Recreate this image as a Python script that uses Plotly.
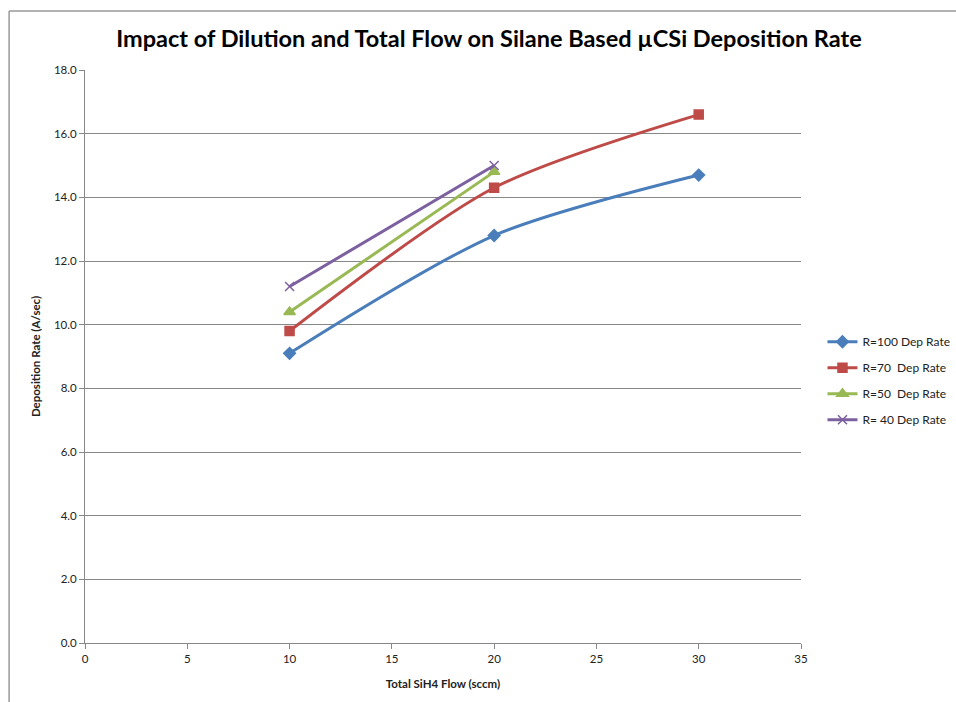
import plotly.graph_objects as go

flow = [10, 20, 30]
r100 = [9.1, 12.8, 14.7]
r70 = [9.8, 14.3, 16.6]
flow_short = [10, 20]
r50 = [10.4, 14.8]
r40 = [11.2, 15.0]

names = ["R=100 Dep Rate", "R=70  Dep Rate", "R=50  Dep Rate", "R= 40 Dep Rate"]
colors = ["#4a7ebb", "#be4b48", "#98b954", "#7d60a0"]

FONT = "Liberation Sans Narrow, Lato, sans-serif"

fig = go.Figure()
series = [
    (flow, r100, "diamond", 9),
    (flow, r70, "square", 9),
    (flow_short, r50, "triangle-up", 10),
    (flow_short, r40, "x-thin", 9),
]
for i, ((xs, ys, sym, sz), nm, c) in enumerate(zip(series, names, colors)):
    fig.add_trace(go.Scatter(
        x=xs, y=ys, name=nm, mode="lines+markers", legendgroup=f"g{i}",
        line=dict(color=c, width=3, shape="spline", smoothing=0.8),
        marker=dict(symbol=sym, size=sz, color=c, line=dict(color=c, width=1.5)),
    ))

fig.update_layout(
    width=956, height=702,
    margin=dict(l=85, r=155, t=70, b=59, autoexpand=False),
    paper_bgcolor="white", plot_bgcolor="white",
    font=dict(family=FONT, size=11, color="#222"),
    title=dict(text="<b>Impact of Dilution and Total Flow on Silane Based µCSi Deposition Rate</b>",
               x=0.5115, xref="container", xanchor="center", y=0.945, yanchor="middle",
               font=dict(family=FONT, size=23.5, color="black")),
    showlegend=True,
    legend=dict(x=1.03, y=0.551, xanchor="left", yanchor="top",
                font=dict(family=FONT, size=12, color="#222"),
                tracegroupgap=7, itemwidth=30, bgcolor="rgba(0,0,0,0)"),
    xaxis=dict(range=[0, 35], dtick=5, tick0=0, showgrid=False, zeroline=False,
               showline=True, linecolor="#888", linewidth=1, ticks="outside",
               ticklen=5, tickcolor="#888", tickfont=dict(size=11.5),
               title=dict(text="<b>Total SiH4 Flow (sccm)</b>", standoff=16,
                          font=dict(family=FONT, size=11.5, color="#222"))),
    yaxis=dict(range=[0, 18], dtick=2, tick0=0, tickformat=".1f", showgrid=True,
               gridcolor="#888", gridwidth=1, zeroline=False,
               showline=True, linecolor="#888", linewidth=1, ticks="outside",
               ticklen=5, tickcolor="#888", tickfont=dict(size=11.5),
               title=dict(text="<b>Deposition Rate (A/sec)</b>", standoff=10,
                          font=dict(family=FONT, size=11.5, color="#222"))),
    shapes=[
        dict(type="line", xref="paper", yref="paper", x0=-0.106, x1=-0.106,
             y0=1.103, y1=-0.12, line=dict(color="#999", width=1.5)),
        dict(type="line", xref="paper", yref="paper", x0=-0.106, x1=1.23,
             y0=1.103, y1=1.103, line=dict(color="#999", width=1.5)),
    ],
)

fig.write_html("out.html")
